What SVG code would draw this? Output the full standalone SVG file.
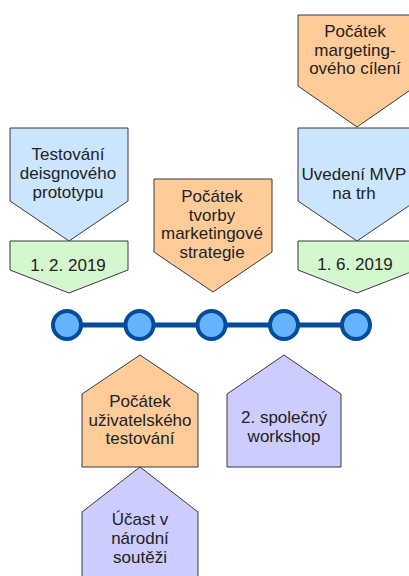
<svg xmlns="http://www.w3.org/2000/svg" width="409" height="576" viewBox="0 0 409 576">
  <style>
    .shape { stroke: #36393d; stroke-width: 1; }
    .blue { fill: #cce5ff; }
    .green { fill: #d5f7cf; }
    .orange { fill: #ffcc99; }
    .purple { fill: #ccccff; }
    .dot { fill: #66b2ff; stroke: #004c99; stroke-width: 4; }
    .link { stroke: #004c99; stroke-width: 5; fill: none; }
    text { font-family: "Liberation Sans", Arial, sans-serif; font-size: 17px; fill: #222; text-anchor: middle; }
  </style>

  <!-- timeline connectors -->
  <g id="connectors">
    <line class="link" x1="67" y1="325" x2="356" y2="325"/>
  </g>

  <!-- milestones above the line -->
  <g id="testovani">
    <path class="shape blue" d="M10,128 H128 V201 L69,241 L10,201 Z"/>
    <text x="68" y="160">Testování</text>
    <text x="68" y="179">deisgnového</text>
    <text x="68" y="198">prototypu</text>
  </g>
  <g id="datum-1-2">
    <path class="shape green" d="M10,241 H128 V270 L69,293 L10,270 Z"/>
    <text x="68" y="271">1. 2. 2019</text>
  </g>
  <g id="strategie">
    <path class="shape orange" d="M154,179 H272 V252 L213,292 L154,252 Z"/>
    <text x="212" y="202">Počátek</text>
    <text x="212" y="220.5">tvorby</text>
    <text x="212" y="239">marketingové</text>
    <text x="212" y="257.5">strategie</text>
  </g>
  <g id="cileni">
    <path class="shape orange" d="M298,15 H416 V86 L357,127 L298,86 Z"/>
    <text x="355" y="37">Počátek</text>
    <text x="355" y="55.5">margeting-</text>
    <text x="355" y="74">ového cílení</text>
  </g>
  <g id="mvp">
    <path class="shape blue" d="M298,128 H416 V201 L357,241 L298,201 Z"/>
    <text x="354" y="180">Uvedení MVP</text>
    <text x="354" y="199">na trh</text>
  </g>
  <g id="datum-1-6">
    <path class="shape green" d="M298,241 H416 V270 L357,293 L298,270 Z"/>
    <text x="355" y="270">1. 6. 2019</text>
  </g>

  <!-- timeline points -->
  <g id="bod-1"><circle class="dot" cx="67" cy="325" r="14"/></g>
  <g id="bod-2"><circle class="dot" cx="139.5" cy="325" r="14"/></g>
  <g id="bod-3"><circle class="dot" cx="211.5" cy="325" r="14"/></g>
  <g id="bod-4"><circle class="dot" cx="284" cy="325" r="14"/></g>
  <g id="bod-5"><circle class="dot" cx="356" cy="325" r="14"/></g>

  <!-- milestones below the line -->
  <g id="uzivatelske-testovani">
    <path class="shape orange" d="M140,355 L198,394 V467 H82 V394 Z"/>
    <text x="140" y="407">Počátek</text>
    <text x="140" y="425.5">uživatelského</text>
    <text x="140" y="444">testování</text>
  </g>
  <g id="soutez">
    <path class="shape purple" d="M140,467 L198,512 V590 H82 V512 Z"/>
    <text x="140" y="525">Účast v</text>
    <text x="140" y="544">národní</text>
    <text x="140" y="563">soutěži</text>
  </g>
  <g id="workshop">
    <path class="shape purple" d="M284,355 L341,394 V467 H227 V394 Z"/>
    <text x="284" y="423">2. společný</text>
    <text x="284" y="442">workshop</text>
  </g>
</svg>
